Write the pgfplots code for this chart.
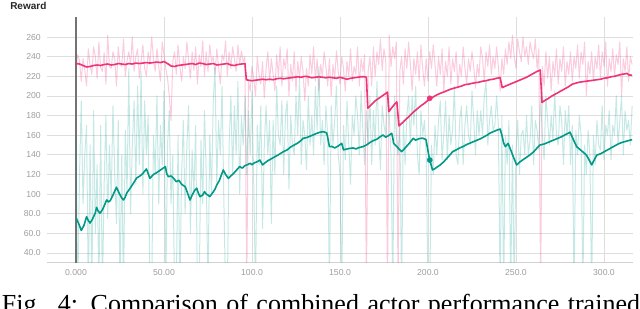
\documentclass[border=0pt]{standalone}
\usepackage{pgfplots}
\usepackage{pgfplotstable}
\usepackage{fontspec}
\pgfplotsset{compat=1.18}
\newfontfamily\sansf{Liberation Sans}
\newfontfamily\seriff{Liberation Serif}
\definecolor{tbpink}{HTML}{EE3377}
\definecolor{tbteal}{HTML}{009988}

\pgfplotstableread[row sep=\\]{
y\\
228\\242\\236\\215\\238\\226\\210\\248\\231\\222\\
250\\240\\218\\255\\229\\225\\244\\212\\262\\230\\
228\\245\\238\\210\\250\\233\\230\\258\\220\\236\\
245\\232\\260\\225\\240\\248\\218\\235\\252\\228\\
220\\245\\232\\260\\238\\225\\248\\230\\215\\255\\
242\\228\\218\\200\\175\\235\\245\\222\\252\\230\\
215\\240\\228\\255\\236\\218\\245\\226\\250\\212\\
242\\230\\256\\220\\245\\225\\252\\235\\240\\222\\
248\\230\\212\\242\\236\\256\\220\\245\\228\\250\\
238\\225\\252\\232\\246\\235\\240\\0\\215\\205\\
230\\218\\200\\240\\222\\212\\235\\198\\228\\245\\
215\\238\\222\\205\\242\\220\\250\\210\\238\\228\\
248\\200\\232\\215\\245\\205\\235\\218\\240\\225\\
195\\228\\210\\242\\222\\250\\215\\238\\205\\232\\
220\\245\\230\\210\\238\\200\\232\\218\\246\\225\\
212\\240\\228\\205\\235\\220\\248\\215\\230\\222\\
250\\210\\238\\225\\242\\0\\225\\240\\210\\250\\
220\\245\\232\\258\\226\\248\\236\\0\\262\\230\\
250\\238\\255\\0\\225\\240\\212\\248\\228\\255\\
232\\205\\238\\222\\245\\215\\252\\228\\210\\238\\
215\\245\\228\\252\\232\\210\\240\\222\\248\\205\\
235\\220\\250\\212\\238\\225\\245\\208\\232\\220\\
250\\228\\212\\238\\225\\245\\230\\208\\232\\220\\
250\\238\\215\\245\\230\\252\\222\\240\\228\\250\\
230\\205\\238\\222\\248\\232\\255\\238\\262\\240\\
228\\258\\245\\235\\260\\240\\250\\232\\255\\245\\
238\\258\\228\\248\\0\\230\\210\\245\\218\\240\\
205\\235\\220\\248\\212\\238\\225\\250\\210\\235\\
222\\245\\215\\240\\228\\252\\218\\245\\232\\255\\
200\\235\\222\\245\\215\\240\\228\\252\\218\\245\\
230\\255\\210\\238\\225\\248\\220\\242\\232\\255\\
200\\238\\225\\250\\215\\240\\232\\
}\rawpink

\pgfplotstableread[row sep=\\]{
y\\
160\\0\\120\\195\\90\\140\\170\\0\\150\\0\\
185\\60\\130\\0\\170\\0\\110\\180\\75\\150\\
95\\190\\120\\70\\175\\0\\140\\0\\165\\100\\
228\\80\\150\\195\\110\\210\\130\\225\\100\\195\\
140\\180\\0\\0\\160\\120\\200\\90\\170\\130\\
205\\0\\150\\185\\90\\140\\0\\0\\160\\0\\
120\\175\\80\\150\\190\\60\\145\\100\\170\\0\\
0\\155\\90\\185\\120\\0\\160\\100\\195\\229\\
110\\175\\140\\210\\95\\0\\0\\150\\200\\120\\
190\\140\\215\\100\\180\\150\\200\\120\\185\\140\\
205\\110\\0\\170\\130\\190\\65\\150\\190\\140\\
175\\70\\175\\120\\210\\160\\150\\195\\120\\180\\
195\\105\\180\\150\\140\\200\\160\\220\\130\\175\\
160\\125\\200\\150\\180\\140\\210\\165\\230\\150\\
175\\130\\190\\160\\0\\190\\150\\175\\210\\140\\
120\\0\\170\\135\\195\\150\\110\\180\\160\\200\\
180\\140\\205\\165\\130\\185\\150\\200\\130\\185\\
150\\215\\165\\125\\190\\170\\160\\200\\180\\140\\
0\\200\\160\\140\\175\\0\\175\\130\\180\\200\\
150\\200\\170\\210\\140\\120\\185\\160\\175\\140\\
0\\0\\150\\120\\170\\140\\175\\195\\135\\160\\
195\\135\\180\\150\\165\\210\\140\\130\\175\\190\\
130\\170\\190\\160\\150\\205\\175\\140\\185\\160\\
185\\160\\200\\215\\150\\175\\190\\165\\170\\200\\
170\\0\\180\\0\\160\\130\\175\\0\\150\\0\\
145\\175\\120\\160\\165\\140\\180\\140\\155\\190\\
130\\175\\165\\145\\200\\160\\135\\200\\175\\150\\
180\\155\\205\\160\\150\\190\\175\\130\\185\\160\\
190\\130\\170\\0\\165\\140\\180\\160\\0\\150\\
120\\165\\140\\0\\160\\130\\175\\150\\145\\190\\
135\\170\\160\\185\\135\\170\\160\\200\\150\\175\\
200\\140\\185\\165\\175\\150\\190\\
}\rawteal

\pgfplotstableread{
x y
0 233
2 232.5
4 231
6 229.5
8 230
10 231
12 231.5
14 231
16 232
18 232.5
20 231.5
22 232
24 233
26 232.5
28 232
30 233
32 232.5
34 233.5
36 233
38 233.5
40 234
42 233.5
44 234
46 234.5
48 234
50 235
52 233
54 230.5
56 230
58 231
60 231.5
62 232
64 232.5
66 233
68 232
70 233.5
72 233
74 232
76 232.5
78 233
80 231.5
82 232
84 232.5
86 233
88 231.5
90 231
92 232
94 232.5
96 233
96.8 216.5
98 216
100 215.5
102 216
104 216.5
106 217
108 216.5
110 217
112 216.5
114 217.5
116 218
118 217.5
120 218
122 218.5
124 219
126 219.5
128 219
130 220
132 219.5
134 218.5
136 219
138 219.5
140 219
142 218.5
144 219
146 218.5
148 218
150 219
152 218
154 217
156 218
158 218.5
160 219
162 219.5
164 219.5
165 219
165.8 187.5
168 191.5
170 195
172 197.5
174 200
176 202.5
177 204
177.8 184
179 187
181 191.5
182.3 194
183.5 169.5
186 173.5
188 177
190 180.5
192 184
194 187
196 190
198 192.5
200 195.5
201 197.2
203 199
205 201
207 202.7
209 204
211 205.5
213 207
215 208
217 209
219 210
221 211.5
223 212
225 212.8
227 213.5
229 214
231 215
233 215.5
235 216.5
237 217
239 218
241 218.6
242.2 208.5
244 210
246 211.5
248 213
250 214.5
252 216
254 217.5
256 219
258 221
260 223
262 225
263.8 226.4
264.8 193.3
266 195
268 197
270 199.5
272 201.5
274 203.5
276 205.5
278 207.5
280 209.5
282 212
284 213
286 214
288 214.5
290 215
292 215.5
294 216
296 216.5
298 217
300 218
302 218.5
304 219.5
306 220
308 221
310 222
312 222.5
313 223
314 221.5
316 221
}\smpink

\pgfplotstableread{
x y
0 76
1.5 70
3 63
4.5 68
6 77
7 73
8 70.5
9.5 75
11 81
11.7 86.5
12.5 83
13.6 80.5
15 84
16.5 90
17.4 94
18.5 92
19.5 93.5
21 99
23 107
24.5 101
26 96
27 94
28 97
28.8 101
30 104
31.5 108
32.6 111
34.5 116.5
36.4 118.5
38 121
40 125.6
41 121
42 116
43 118
44 120
46 122
48 124.5
50 127
50.8 128
51.5 121
52.5 117.7
54 118.5
55.5 116
57 112.6
58.5 114
60 110
62 107.6
63 103
64.8 94
66 99
67.5 104
68.6 106
69.5 101
70.5 97.4
72 99
73 102.5
74 100
75 99
76 97.4
77.5 101
79 105
80 109.3
81.5 114
82.5 119
83.7 124.6
85 120
86.6 116
88 118.5
89.5 121
91 124
93 128
94.5 126.5
96 129
97.5 130
98.9 131.4
100 130
101.5 132
103 133
104.5 134.7
106 129.7
107.5 132
109 134
111 136
113 138
115 140
117.8 143.2
120 145
122 148
124 150
126 152
127.5 154
129 156.8
131 157.5
133 159
135 160.5
137 162
138.6 163
140.5 163.6
142.4 162.4
143 158
144 148.3
145.5 148.5
147 147
149 149
151 151.7
152 145
154 146
155.7 146.6
157.5 147
159 146
161 147.5
163 148.3
165 150
167 152.5
169 154.5
171 156
172.5 158
174.4 160.2
176 158
177.5 159.5
179.4 161.9
180 157
180.5 151.7
182 149
183.5 146
185 143.2
186.5 146
188 149
189.5 152
191.6 156.8
193 155
195 156.5
197 157
198.9 155.5
200 144
201 134.7
202.6 124.6
204 126
205.5 128
207 129.7
209 133
211 137
213 141
214 143.2
216 145
218 147
220 148.5
222 150.5
224 152
226 153.5
228 155
230 156.5
232 158.5
234 160.5
235 161.9
237 163.5
239 165
241 166.3
242 160
243 152
244 148.3
245.5 151.7
247 145
248.5 138
250.4 129.7
252 132.5
254 135
256 137.5
258 140
260 143
262 147
263.6 150
266 151
268 152.5
270 154
272 155.5
274 157
276 158.5
278 160.5
280.7 163
282 158
283.5 152
284.5 148.3
286 146
288 143
290 139.8
291.5 135
293 129.7
294.5 135
296 139.8
298 141
300 143
302 145
304 147
306 149
308 151
310 152.5
312 153.5
314 154.5
316 155.5
}\smteal

\begin{document}
\begin{tikzpicture}[x=1pt,y=1pt]
\begin{axis}[
  at={(35.25pt,33.9pt)}, anchor=south west,
  scale only axis, width=439.5pt, height=184.05pt,
  xmin=-16.48, xmax=316.5, ymin=30, ymax=280,
  axis line style={draw=none},
  grid=major,
  major grid style={line width=0.6pt, draw=black!13},
  xtick={0,50,100,150,200,250,300},
  xticklabels={0.000,50.00,100.0,150.0,200.0,250.0,300.0},
  ytick={40,60,80,100,120,140,160,180,200,220,240,260},
  yticklabels={40.0,60.0,80.0,100,120,140,160,180,200,220,240,260},
  major tick length=0pt,
  tick label style={font=\sansf\fontsize{6.5}{7}\selectfont, text=black!38},
  yticklabel style={anchor=east, inner sep=0pt, xshift=-4.5pt},
  xticklabel style={anchor=north, inner sep=0pt, yshift=-4.9pt},
  clip=true,
]
\draw[black!18, line width=0.6pt] (rel axis cs:0,0) -- (rel axis cs:1,0);
\addplot[draw=black!55, line width=1.1pt] coordinates {(0,30) (0,280)};
\addplot[draw=tbpink, opacity=0.25, line width=0.75pt, line join=round] table[x expr=\coordindex, y=y] {\rawpink};
\addplot[draw=tbteal, opacity=0.22, line width=0.75pt, line join=round] table[x expr=\coordindex, y=y] {\rawteal};
\addplot[draw=tbteal, line width=1.2pt, line join=round] table[x=x, y=y] {\smteal};
\addplot[draw=tbpink, line width=1.2pt, line join=round] table[x=x, y=y] {\smpink};
\addplot[only marks, mark=*, mark size=1.9pt, color=tbpink] coordinates {(201,197.6)};
\addplot[only marks, mark=*, mark size=1.9pt, color=tbteal] coordinates {(201,134.7)};
\end{axis}
\node[anchor=base west, inner sep=0pt, font=\sansf\bfseries\fontsize{7.5}{9}\selectfont, text=black!85] at (7.5pt,224.25pt) {Reward};
\node[anchor=base west, inner sep=0pt, font=\seriff\fontsize{19.5}{22}\selectfont] at (1.3pt,-3pt) {\makebox[478.5pt][s]{Fig. 4: Comparison of combined actor performance trained}};
\pgfresetboundingbox
\useasboundingbox (0,0) rectangle (480pt,231pt);
\end{tikzpicture}
\end{document}
